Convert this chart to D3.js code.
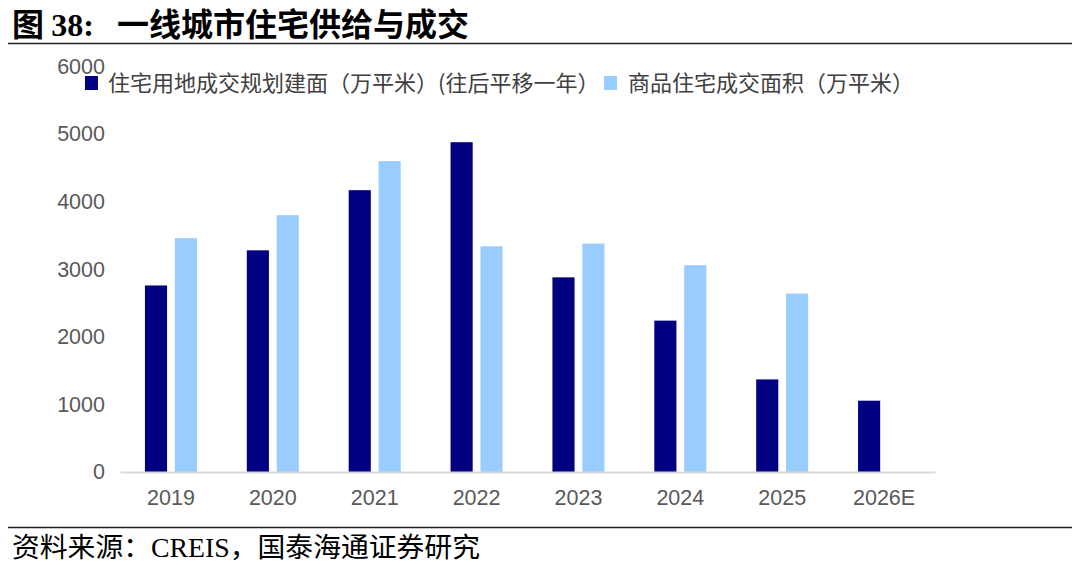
<!DOCTYPE html>
<html>
<head>
<meta charset="utf-8">
<script src="https://cdn.jsdelivr.net/npm/d3@7/dist/d3.min.js"></script>
<style>
body{margin:0;background:#fff;}
svg{display:block;}
</style>
</head>
<body>
<svg id="chart" width="1078" height="565"></svg>
<script>
const categories = ["2019","2020","2021","2022","2023","2024","2025","2026E"];
const landSupply = [2760, 3280, 4170, 4880, 2880, 2240, 1370, 1055];
const salesArea = [3460, 3800, 4600, 3340, 3380, 3060, 2640, null];
const yTicks = [0,1000,2000,3000,4000,5000,6000];
const seriesNames = ["住宅用地成交规划建面（万平米）(往后平移一年）","商品住宅成交面积（万平米）"];
const seriesColors = ["#000080","#99CCFF"];

const svg = d3.select("#chart");
const cjk = "'Noto Sans CJK SC', sans-serif";

// Title
const title = svg.append("text").attr("x",12).attr("y",36)
  .attr("font-size",32).attr("font-weight","bold").attr("fill","#000");
title.append("tspan").attr("font-family",cjk).text("图 ");
title.append("tspan").attr("font-family","'Liberation Serif', serif").text("38:");
title.append("tspan").attr("font-family",cjk).attr("dx",23).text("一线城市住宅供给与成交");

svg.append("line").attr("x1",8).attr("x2",1072).attr("y1",43.5).attr("y2",43.5)
  .attr("stroke","#222").attr("stroke-width",1.6);
svg.append("line").attr("x1",8).attr("x2",1072).attr("y1",527.5).attr("y2",527.5)
  .attr("stroke","#222").attr("stroke-width",1.6);

svg.append("text").attr("x",12).attr("y",557)
  .attr("font-family","'Liberation Serif', 'Noto Sans CJK SC', serif")
  .attr("font-size",27.8).attr("fill","#000")
  .text("资料来源：CREIS，国泰海通证券研究");

// Scales
const x0 = d3.scaleBand().domain(categories).range([120,935]).padding(0);
const x1 = d3.scaleBand().domain([0,1]).range([-26,26]).paddingInner(0.26).paddingOuter(0);
const y = d3.scaleLinear().domain([0,6000]).range([472,66.5]);

// Y axis
const yAxis = d3.axisLeft(y).tickValues(yTicks).tickSize(0).tickPadding(0).tickFormat(d3.format("d"));
const yg = svg.append("g").attr("transform","translate(105,0)").call(yAxis);
yg.select(".domain").remove();
yg.selectAll("text").attr("font-family","'Liberation Sans', Arial, sans-serif")
  .attr("font-size",21.5).attr("fill","#595959");

// X axis
const xAxis = d3.axisBottom(x0).tickSize(0).tickPadding(18);
const xg = svg.append("g").attr("transform",`translate(0,${y(0)})`).call(xAxis);
xg.select(".domain").attr("stroke","#d9d9d9").attr("stroke-width",2);
xg.selectAll("text").attr("font-family","'Liberation Sans', Arial, sans-serif")
  .attr("font-size",21.5).attr("fill","#595959");

// Bars
const series = [landSupply, salesArea];
series.forEach((vals, si) => {
  svg.append("g").selectAll("rect")
    .data(categories.map((c,i)=>({c, v: vals[i]})).filter(d=>d.v!=null))
    .join("rect")
    .attr("x", d => x0(d.c) + x0.bandwidth()/2 + x1(si))
    .attr("width", x1.bandwidth())
    .attr("y", d => y(d.v))
    .attr("height", d => y(0) - y(d.v))
    .attr("fill", seriesColors[si]);
});
xg.raise();

// Legend
const legendPos = [{sx:85, tx:108},{sx:604, tx:628}];
seriesNames.forEach((name, i) => {
  svg.append("rect").attr("x",legendPos[i].sx).attr("y",76).attr("width",13).attr("height",14)
    .attr("fill",seriesColors[i]);
  svg.append("text").attr("x",legendPos[i].tx).attr("y",91)
    .attr("font-family",cjk).attr("font-size",22).attr("fill","#404040")
    .text(name);
});
</script>
</body>
</html>
